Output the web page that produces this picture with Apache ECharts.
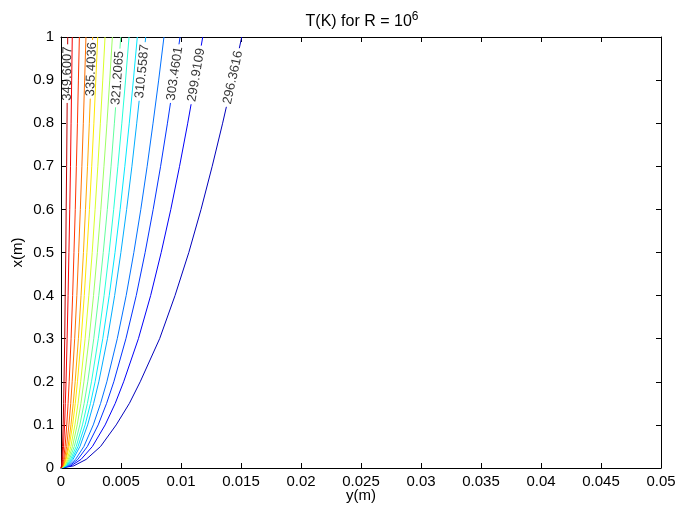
<!DOCTYPE html>
<html><head><meta charset="utf-8">
<script src="https://cdn.jsdelivr.net/npm/echarts@6/dist/echarts.min.js"></script>
<style>html,body{margin:0;padding:0;background:#fff}#c{width:681px;height:510px}</style>
</head><body><div id="c"></div>
<script>
// ---- data ----
const xTickLabels = ['0','0.005','0.01','0.015','0.02','0.025','0.03','0.035','0.04','0.045','0.05'];
const yTickLabels = ['0','0.1','0.2','0.3','0.4','0.5','0.6','0.7','0.8','0.9','1'];
// x(m) sample heights where each contour's y(m) position was read
const heights = [0, 0.005, 0.02, 0.05, 0.1, 0.15, 0.2, 0.3, 0.4, 0.5, 0.6, 0.7, 0.8, 0.9, 1.0];
const levels = [296.3616, 299.9109, 303.4601, 307.0094, 310.5587, 314.1079, 317.6572, 321.2065,
                324.7557, 328.3050, 331.8543, 335.4036, 338.9528, 342.5021, 346.0514, 349.6007];
const c01 = [0, 0.00106, 0.00210, 0.00330, 0.00460, 0.00570, 0.00660, 0.00822, 0.00950, 0.01065, 0.01167, 0.01260, 0.01347, 0.01429, 0.01506];
const c02 = [0, 0.00083, 0.00167, 0.00262, 0.00368, 0.00452, 0.00522, 0.00645, 0.00747, 0.00835, 0.00915, 0.00988, 0.01056, 0.01120, 0.01181];
const c03 = [0, 0.00070, 0.00140, 0.00220, 0.00310, 0.00380, 0.00440, 0.00541, 0.00627, 0.00701, 0.00768, 0.00830, 0.00887, 0.00941, 0.00992];
const c04 = [0, 0.00061, 0.00121, 0.00191, 0.00269, 0.00330, 0.00382, 0.00469, 0.00543, 0.00607, 0.00665, 0.00718, 0.00767, 0.00814, 0.00858];
const c05 = [0, 0.00050, 0.00100, 0.00158, 0.00222, 0.00272, 0.00315, 0.00387, 0.00447, 0.00499, 0.00547, 0.00591, 0.00631, 0.00670, 0.00706];
const c06 = [0, 0.00045, 0.00090, 0.00142, 0.00201, 0.00246, 0.00284, 0.00348, 0.00402, 0.00450, 0.00493, 0.00532, 0.00569, 0.00603, 0.00636];
const c07 = [0, 0.00040, 0.00080, 0.00127, 0.00179, 0.00220, 0.00254, 0.00311, 0.00359, 0.00401, 0.00439, 0.00474, 0.00507, 0.00538, 0.00567];
const c08 = [0, 0.00035, 0.00070, 0.00111, 0.00157, 0.00193, 0.00223, 0.00273, 0.00315, 0.00352, 0.00386, 0.00417, 0.00445, 0.00472, 0.00498];
const c09 = [0, 0.00030, 0.00061, 0.00096, 0.00135, 0.00166, 0.00191, 0.00234, 0.00271, 0.00303, 0.00332, 0.00358, 0.00383, 0.00406, 0.00428];
const c10 = [0, 0.00026, 0.00052, 0.00082, 0.00116, 0.00142, 0.00164, 0.00201, 0.00232, 0.00260, 0.00284, 0.00307, 0.00328, 0.00348, 0.00367];
const c11 = [0, 0.00022, 0.00043, 0.00068, 0.00097, 0.00119, 0.00137, 0.00168, 0.00194, 0.00216, 0.00237, 0.00256, 0.00274, 0.00290, 0.00306];
const c12 = [0, 0.00019, 0.00037, 0.00059, 0.00083, 0.00102, 0.00118, 0.00145, 0.00167, 0.00187, 0.00204, 0.00221, 0.00236, 0.00250, 0.00264];
const c13 = [0, 0.00015, 0.00029, 0.00047, 0.00066, 0.00081, 0.00093, 0.00114, 0.00132, 0.00147, 0.00161, 0.00174, 0.00186, 0.00197, 0.00208];
const c14 = [0, 0.00011, 0.00022, 0.00034, 0.00048, 0.00059, 0.00068, 0.00084, 0.00097, 0.00108, 0.00119, 0.00128, 0.00137, 0.00145, 0.00153];
const c15 = [0, 0.00007, 0.00013, 0.00021, 0.00030, 0.00036, 0.00042, 0.00051, 0.00059, 0.00066, 0.00073, 0.00079, 0.00084, 0.00089, 0.00094];
const c16 = [0, 0.00004, 0.00008, 0.00013, 0.00018, 0.00022, 0.00025, 0.00031, 0.00035, 0.00040, 0.00043, 0.00047, 0.00050, 0.00053, 0.00056];
const contours = [c01, c02, c03, c04, c05, c06, c07, c08, c09, c10, c11, c12, c13, c14, c15, c16];
// labelled contours (index into levels) and the x(m) where each label sits
const labelIndex = [15, 11, 7, 4, 2, 1, 0];
const labelText = ['349.6007', '335.4036', '321.2065', '310.5587', '303.4601', '299.9109', '296.3616'];
const labelAt = [0.915, 0.925, 0.905, 0.92, 0.915, 0.912, 0.906];

// ---- helpers ----
const FONT = "'Liberation Sans', Arial, Helvetica, sans-serif";
const LMIN = 292.8123, LMAX = 353.1499;
function clamp(v){return Math.max(0, Math.min(1, v));}
function jet(v){
  const t = (v - LMIN) / (LMAX - LMIN);
  const r = clamp(1.5 - Math.abs(4*t - 3)), g = clamp(1.5 - Math.abs(4*t - 2)), b = clamp(1.5 - Math.abs(4*t - 1));
  return 'rgb(' + Math.round(r*255) + ',' + Math.round(g*255) + ',' + Math.round(b*255) + ')';
}
function yAt(arr, h){
  for (let i = 1; i < heights.length; i++){
    if (h <= heights[i]){
      const f = (h - heights[i-1]) / (heights[i] - heights[i-1]);
      return arr[i-1] + f*(arr[i]-arr[i-1]);
    }
  }
  return arr[arr.length-1];
}
const GAP = 0.068;

const series = [];
contours.forEach((arr, i) => {
  const color = jet(levels[i]);
  const li = labelIndex.indexOf(i);
  const base = {type:'line', showSymbol:false, symbol:'none', silent:true, animation:false, z:2,
                lineStyle:{color:color, width:1}, clip:true};
  if (li < 0){
    series.push(Object.assign({}, base, {data: heights.map((h, k) => [arr[k], h])}));
  } else {
    const lo = labelAt[li] - GAP, hi = labelAt[li] + GAP;
    const part1 = [];
    heights.forEach((h, k) => { if (h < lo) part1.push([arr[k], h]); });
    part1.push([yAt(arr, lo), lo]);
    series.push(Object.assign({}, base, {data: part1}));
    if (hi < 1){
      const part2 = [[yAt(arr, hi), hi]];
      heights.forEach((h, k) => { if (h > hi) part2.push([arr[k], h]); });
      series.push(Object.assign({}, base, {data: part2}));
    }
  }
});

const axisCommon = {
  type:'value', splitLine:{show:false},
  axisLine:{show:true, onZero:false, lineStyle:{color:'#000', width:1}},
  axisTick:{show:true, inside:true, length:5, lineStyle:{color:'#000', width:1}}
};
const chart = echarts.init(document.getElementById('c'), null, {renderer:'canvas'});
const option = {
  animation:false,
  backgroundColor:'#fff',
  grid:{left:61, top:37, right:20, bottom:42, containLabel:false, outerBoundsMode:'none'},
  xAxis:[
    Object.assign({}, axisCommon, {position:'bottom', min:0, max:0.05, interval:0.005,
      axisLabel:{color:'#000', fontSize:15, fontFamily:FONT, margin:6, formatter:(v, i) => xTickLabels[i]},
      name:'y(m)', nameLocation:'middle', nameGap:20, nameMoveOverlap:false,
      nameTextStyle:{color:'#000', fontSize:15, fontFamily:FONT}}),
    Object.assign({}, axisCommon, {position:'top', min:0, max:0.05, interval:0.005, axisLabel:{show:false}})
  ],
  yAxis:[
    Object.assign({}, axisCommon, {position:'left', min:0, max:1, interval:0.1,
      axisLabel:{color:'#000', fontSize:15, fontFamily:FONT, margin:7, formatter:(v, i) => yTickLabels[i]},
      name:'x(m)', nameLocation:'middle', nameGap:36, nameMoveOverlap:false,
      nameTextStyle:{color:'#000', fontSize:15, fontFamily:FONT}}),
    Object.assign({}, axisCommon, {position:'right', min:0, max:1, interval:0.1, axisLabel:{show:false}})
  ],
  graphic:[{
    type:'text', x:362, y:22, z:100,
    style:{
      text:'{m|T(K) for R = 10}{s|6}', align:'center', verticalAlign:'middle',
      rich:{
        m:{fontSize:16, fontFamily:FONT, fill:'#000', color:'#000'},
        s:{fontSize:12, fontFamily:FONT, fill:'#000', color:'#000', padding:[0,0,10,0]}
      }
    }
  }],
  series: series
};
chart.setOption(option);

// labels: positioned on the contour, rotated along its local direction
const labelSeries = labelIndex.map((ci, j) => {
  const arr = contours[ci];
  const h = labelAt[j];
  const p1 = chart.convertToPixel({gridIndex:0}, [yAt(arr, h - 0.04), h - 0.04]);
  const p2 = chart.convertToPixel({gridIndex:0}, [yAt(arr, Math.min(1, h + 0.04)), Math.min(1, h + 0.04)]);
  const ang = Math.atan2(p1[1] - p2[1], p2[0] - p1[0]) * 180 / Math.PI;
  return {
    type:'scatter', silent:true, animation:false, z:5, symbolSize:1,
    itemStyle:{color:'rgba(0,0,0,0)'},
    data:[[yAt(arr, h), h]],
    label:{show:true, position:'inside', rotate:ang, color:'#000', fontSize:13, fontFamily:FONT,
           textBorderWidth:0, textBorderColor:'transparent', textShadowBlur:0,
           formatter:() => labelText[j]}
  };
});
chart.setOption({series: series.concat(labelSeries)});
</script>
</body></html>
